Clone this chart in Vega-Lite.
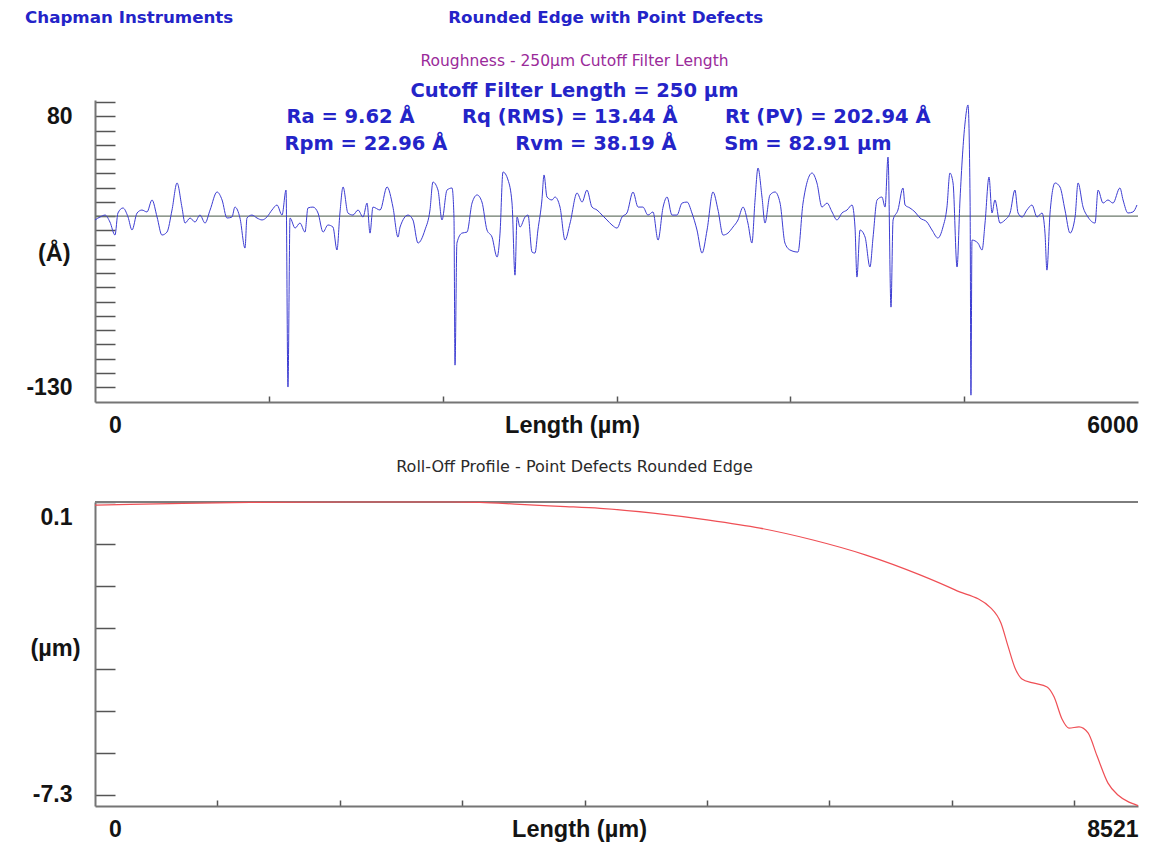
{
  "$schema": "https://vega.github.io/schema/vega-lite/v6.json",
  "autosize": {"type": "none"},
  "padding": {"left": 95, "top": 100, "right": 1062, "bottom": 750},
  "background": "white",
  "title": {
    "text": "Chapman Instruments\u00a0\u00a0\u00a0\u00a0\u00a0\u00a0\u00a0\u00a0\u00a0\u00a0\u00a0\u00a0\u00a0\u00a0\u00a0\u00a0\u00a0\u00a0\u00a0\u00a0\u00a0\u00a0\u00a0\u00a0\u00a0\u00a0\u00a0\u00a0\u00a0\u00a0\u00a0\u00a0\u00a0\u00a0\u00a0\u00a0\u00a0Rounded Edge with Point Defects",
    "anchor": "start",
    "frame": "group",
    "dx": -70,
    "offset": 27,
    "font": "DejaVu Sans",
    "fontSize": 16.7,
    "fontWeight": "bold",
    "color": "#2424c8"
  },
  "datasets": {
    "roughness": [
      {"length": 0, "height": -0.4}, {"length": 29, "height": 1.9}, {"length": 58, "height": 3.4}, {"length": 86, "height": -2.0},
      {"length": 115, "height": -12.1}, {"length": 132, "height": 5.0}, {"length": 161, "height": 8.9}, {"length": 190, "height": 1.9},
      {"length": 213, "height": -8.2}, {"length": 242, "height": 5.0}, {"length": 270, "height": 7.3}, {"length": 299, "height": 5.8},
      {"length": 328, "height": 15.1}, {"length": 357, "height": 1.9}, {"length": 385, "height": -12.1}, {"length": 414, "height": -9.8},
      {"length": 443, "height": 7.3}, {"length": 472, "height": 28.3}, {"length": 500, "height": 9.6}, {"length": 518, "height": -2.8},
      {"length": 547, "height": 1.1}, {"length": 575, "height": -2.0}, {"length": 604, "height": 3.4}, {"length": 633, "height": -2.8},
      {"length": 662, "height": 7.3}, {"length": 702, "height": 21.3}, {"length": 731, "height": 15.1}, {"length": 759, "height": 1.1},
      {"length": 788, "height": 1.9}, {"length": 805, "height": 9.6}, {"length": 834, "height": 1.1}, {"length": 863, "height": -22.2},
      {"length": 874, "height": 1.1}, {"length": 903, "height": 3.4}, {"length": 932, "height": 1.1}, {"length": 961, "height": -0.4},
      {"length": 989, "height": 1.9}, {"length": 1018, "height": 7.3}, {"length": 1047, "height": 11.2}, {"length": 1076, "height": 3.4},
      {"length": 1099, "height": 22.8}, {"length": 1110, "height": -130}, {"length": 1122, "height": 1.1}, {"length": 1151, "height": -6.7},
      {"length": 1179, "height": -2.8}, {"length": 1208, "height": -9.8}, {"length": 1225, "height": 8.9}, {"length": 1254, "height": 9.6},
      {"length": 1283, "height": 5.0}, {"length": 1312, "height": -9.8}, {"length": 1340, "height": -4.3}, {"length": 1369, "height": -5.9},
      {"length": 1392, "height": -23.7}, {"length": 1409, "height": 5.0}, {"length": 1427, "height": 25.2}, {"length": 1455, "height": 5.0},
      {"length": 1484, "height": 3.4}, {"length": 1513, "height": 7.3}, {"length": 1542, "height": 1.9}, {"length": 1565, "height": 12.7},
      {"length": 1582, "height": -10.6}, {"length": 1599, "height": 9.6}, {"length": 1640, "height": 7.3}, {"length": 1680, "height": 25.2},
      {"length": 1714, "height": 9.6}, {"length": 1743, "height": -13.7}, {"length": 1755, "height": -5.9}, {"length": 1801, "height": 3.4},
      {"length": 1829, "height": -0.4}, {"length": 1858, "height": -18.3}, {"length": 1898, "height": -8.2}, {"length": 1927, "height": 7.3},
      {"length": 1944, "height": 29.0}, {"length": 1973, "height": 22.8}, {"length": 1996, "height": -0.4}, {"length": 2025, "height": 22.8},
      {"length": 2054, "height": 24.4}, {"length": 2065, "height": 1.9}, {"length": 2071, "height": -113.0}, {"length": 2082, "height": -18.3},
      {"length": 2111, "height": -10.6}, {"length": 2140, "height": -9.8}, {"length": 2169, "height": 12.7}, {"length": 2198, "height": 19.0},
      {"length": 2226, "height": 13.5}, {"length": 2255, "height": -8.2}, {"length": 2284, "height": -13.7}, {"length": 2313, "height": -29.2},
      {"length": 2330, "height": -10.6}, {"length": 2347, "height": 36.8}, {"length": 2376, "height": 30.6}, {"length": 2399, "height": 12.7},
      {"length": 2416, "height": -43.2}, {"length": 2428, "height": 1.9}, {"length": 2445, "height": -5.9}, {"length": 2474, "height": 1.9},
      {"length": 2491, "height": 3.4}, {"length": 2514, "height": -25.3}, {"length": 2531, "height": -26.1}, {"length": 2548, "height": -8.2},
      {"length": 2571, "height": 15.1}, {"length": 2583, "height": 34.5}, {"length": 2600, "height": 17.4}, {"length": 2629, "height": 15.1},
      {"length": 2646, "height": 17.4}, {"length": 2675, "height": 9.6}, {"length": 2704, "height": -16.0}, {"length": 2733, "height": -2.8},
      {"length": 2773, "height": 20.5}, {"length": 2802, "height": 13.5}, {"length": 2830, "height": 22.8}, {"length": 2859, "height": 9.6},
      {"length": 2888, "height": 7.3}, {"length": 2917, "height": 3.4}, {"length": 2945, "height": -0.4}, {"length": 2974, "height": -4.3},
      {"length": 3003, "height": -6.7}, {"length": 3032, "height": 1.9}, {"length": 3060, "height": 5.0}, {"length": 3095, "height": 21.3},
      {"length": 3124, "height": 9.6}, {"length": 3152, "height": 9.6}, {"length": 3181, "height": 3.4}, {"length": 3210, "height": 5.8},
      {"length": 3239, "height": -16.0}, {"length": 3268, "height": 9.6}, {"length": 3291, "height": 17.4}, {"length": 3319, "height": 3.4},
      {"length": 3348, "height": 3.4}, {"length": 3377, "height": 12.7}, {"length": 3406, "height": 13.5}, {"length": 3434, "height": 5.0},
      {"length": 3463, "height": -8.2}, {"length": 3492, "height": -26.1}, {"length": 3521, "height": -8.2}, {"length": 3555, "height": 21.3},
      {"length": 3584, "height": 7.3}, {"length": 3613, "height": -12.1}, {"length": 3641, "height": -10.6}, {"length": 3670, "height": -5.9},
      {"length": 3699, "height": -0.4}, {"length": 3728, "height": 9.6}, {"length": 3756, "height": -2.8}, {"length": 3779, "height": -18.3},
      {"length": 3797, "height": 15.1}, {"length": 3814, "height": 39.9}, {"length": 3837, "height": 17.4}, {"length": 3854, "height": -2.8},
      {"length": 3883, "height": 19.0}, {"length": 3912, "height": 21.3}, {"length": 3941, "height": 12.7}, {"length": 3969, "height": -18.3},
      {"length": 3998, "height": -23.7}, {"length": 4044, "height": -25.3}, {"length": 4073, "height": 12.7}, {"length": 4125, "height": 36.0},
      {"length": 4153, "height": 28.3}, {"length": 4182, "height": 9.6}, {"length": 4211, "height": 12.7}, {"length": 4240, "height": 5.8},
      {"length": 4268, "height": -0.4}, {"length": 4297, "height": 5.0}, {"length": 4326, "height": 7.3}, {"length": 4355, "height": 11.2},
      {"length": 4372, "height": -5.9}, {"length": 4383, "height": -44.7}, {"length": 4401, "height": -8.2}, {"length": 4430, "height": -13.7},
      {"length": 4458, "height": -36.9}, {"length": 4476, "height": -13.7}, {"length": 4499, "height": 15.1}, {"length": 4527, "height": 17.4},
      {"length": 4545, "height": 9.6}, {"length": 4562, "height": 48.4}, {"length": 4579, "height": -68.0}, {"length": 4591, "height": -0.4},
      {"length": 4619, "height": 7.3}, {"length": 4648, "height": 24.4}, {"length": 4660, "height": 11.2}, {"length": 4688, "height": 8.9},
      {"length": 4717, "height": 5.8}, {"length": 4746, "height": 1.1}, {"length": 4786, "height": -2.0}, {"length": 4815, "height": -8.2},
      {"length": 4849, "height": -14.4}, {"length": 4878, "height": -5.9}, {"length": 4901, "height": 9.6}, {"length": 4918, "height": 36.0},
      {"length": 4936, "height": 28.3}, {"length": 4959, "height": -36.9}, {"length": 4976, "height": 15.1}, {"length": 5005, "height": 74.8},
      {"length": 5022, "height": 88.8}, {"length": 5034, "height": 15.1}, {"length": 5039, "height": -136.3}, {"length": 5045, "height": -16.0},
      {"length": 5079, "height": -18.3}, {"length": 5103, "height": -23.7}, {"length": 5120, "height": -2.8}, {"length": 5143, "height": 32.9},
      {"length": 5160, "height": 5.0}, {"length": 5177, "height": 15.1}, {"length": 5206, "height": -2.8}, {"length": 5235, "height": -0.4},
      {"length": 5264, "height": 5.0}, {"length": 5292, "height": 22.8}, {"length": 5310, "height": 5.0}, {"length": 5333, "height": 1.9},
      {"length": 5361, "height": 7.3}, {"length": 5390, "height": 11.2}, {"length": 5419, "height": 1.9}, {"length": 5448, "height": 5.0},
      {"length": 5465, "height": -10.6}, {"length": 5476, "height": -39.3}, {"length": 5494, "height": 5.0}, {"length": 5523, "height": 28.3},
      {"length": 5551, "height": 25.2}, {"length": 5580, "height": 7.3}, {"length": 5609, "height": -10.6}, {"length": 5638, "height": 1.9},
      {"length": 5655, "height": 28.3}, {"length": 5684, "height": 9.6}, {"length": 5712, "height": 1.9}, {"length": 5753, "height": -2.8},
      {"length": 5770, "height": 22.8}, {"length": 5799, "height": 12.7}, {"length": 5827, "height": 15.1}, {"length": 5856, "height": 12.7},
      {"length": 5896, "height": 24.4}, {"length": 5914, "height": 15.1}, {"length": 5942, "height": 5.0}, {"length": 5971, "height": 5.8},
      {"length": 5994, "height": 11.2}
    ],
    "rolloff": [
      {"length": 0, "height": 0.02}, {"length": 286, "height": 0.04}, {"length": 613, "height": 0.06}, {"length": 1266, "height": 0.09},
      {"length": 2083, "height": 0.1}, {"length": 2900, "height": 0.1}, {"length": 3145, "height": 0.09}, {"length": 3472, "height": 0.04},
      {"length": 3799, "height": -0.01}, {"length": 4126, "height": -0.06}, {"length": 4559, "height": -0.18}, {"length": 5000, "height": -0.35},
      {"length": 5433, "height": -0.56}, {"length": 5866, "height": -0.86}, {"length": 6299, "height": -1.24}, {"length": 6740, "height": -1.74},
      {"length": 7026, "height": -2.12}, {"length": 7320, "height": -2.58}, {"length": 7402, "height": -2.96}, {"length": 7459, "height": -3.54},
      {"length": 7516, "height": -4.09}, {"length": 7573, "height": -4.37}, {"length": 7663, "height": -4.47}, {"length": 7778, "height": -4.57},
      {"length": 7835, "height": -4.82}, {"length": 7900, "height": -5.38}, {"length": 7957, "height": -5.61}, {"length": 8039, "height": -5.58},
      {"length": 8113, "height": -5.73}, {"length": 8186, "height": -6.31}, {"length": 8276, "height": -7.0}, {"length": 8357, "height": -7.3},
      {"length": 8447, "height": -7.48}, {"length": 8505, "height": -7.55}, {"length": 8521, "height": -7.57}
    ]
  },
  "vconcat": [
    {
      "width": 1043,
      "height": 302,
      "title": {
        "text": "Roughness - 250µm Cutoff Filter Length",
        "subtitle": [
          "Cutoff Filter Length = 250 µm",
          "\u200b\u00a0\u00a0\u00a0\u00a0\u00a0\u00a0\u00a0\u00a0\u00a0\u00a0Ra = 9.62 Å\u00a0\u00a0\u00a0\u00a0\u00a0\u00a0\u00a0Rq (RMS) = 13.44 Å\u00a0\u00a0\u00a0\u00a0\u00a0\u00a0\u00a0Rt (PV) = 202.94 Å",
          "\u200b\u00a0\u00a0\u00a0\u00a0Rpm = 22.96 Å\u00a0\u00a0\u00a0\u00a0\u00a0\u00a0\u00a0\u00a0\u00a0\u00a0Rvm = 38.19 Å\u00a0\u00a0\u00a0\u00a0\u00a0\u00a0\u00a0Sm = 82.91 µm"
        ],
        "anchor": "middle",
        "frame": "group",
        "dx": -42,
        "offset": -62,
        "font": "DejaVu Sans",
        "fontSize": 15.5,
        "fontWeight": "normal",
        "color": "#9a2a9a",
        "subtitleFont": "DejaVu Sans",
        "subtitleFontSize": 19.5,
        "subtitleFontWeight": "bold",
        "subtitleColor": "#2424c8",
        "subtitleLineHeight": 26.5,
        "subtitlePadding": 12
      },
      "layer": [
        {
          "data": {"values": [{}]},
          "mark": {"type": "rule", "color": "#6b786b", "strokeWidth": 1.2},
          "encoding": {"y": {"datum": 2.6, "type": "quantitative"}}
        },
        {
          "data": {"name": "roughness"},
          "mark": {"type": "line", "color": "#3c3cd2", "strokeWidth": 1, "interpolate": "monotone"},
          "encoding": {
            "x": {
              "field": "length", "type": "quantitative",
              "scale": {"domain": [0, 6000], "nice": false, "zero": false},
              "axis": {
                "values": [0, 1000, 2000, 3000, 4000, 5000, 6000],
                "tickCount": 30,
                "labelExpr": "datum.value == 0 ? '0' : datum.value == 6000 ? '6000' : ''",
                "tickSize": -6,
                "labelPadding": 29,
                "labelBaseline": "middle",
                "labelAlign": {"condition": {"test": "datum.value == 6000", "value": "right"}, "value": "center"},
                "labelOffset": {"condition": {"test": "datum.value == 0", "value": 20}, "value": 0},
                "tickOpacity": {"condition": {"test": "datum.value == 0 || datum.value == 6000", "value": 0}, "value": 1},
                "title": "Length (µm)",
                "titleX": 477,
                "titleY": 23,
                "titleBaseline": "middle",
                "titleAlign": "center"
              }
            },
            "y": {
              "field": "height", "type": "quantitative",
              "scale": {"domain": [-141.6, 92.65], "nice": false, "zero": false},
              "axis": {
                "values": [91.05, 80, 68.95, 57.89, 46.84, 35.79, 24.74, 13.68, 2.63, -8.42, -19.47, -30.53, -41.58, -52.63, -63.68, -74.74, -85.79, -96.84, -107.89, -118.95, -130],
                "tickCount": 40,
                "labelExpr": "datum.value == 80 ? '80' : datum.value == -130 ? '-130' : ''",
                "tickSize": -20,
                "labelPadding": 43,
                "title": "(Å)",
                "titleAngle": 0,
                "titleAlign": "right",
                "titleBaseline": "middle",
                "titleX": -25,
                "titleY": 153
              }
            }
          }
        }
      ]
    },
    {
      "width": 1043,
      "height": 304,
      "title": {
        "text": "Roll-Off Profile - Point Defects Rounded Edge",
        "anchor": "middle",
        "frame": "group",
        "dx": -42,
        "offset": 25,
        "font": "DejaVu Sans",
        "fontSize": 16,
        "fontWeight": "normal",
        "color": "#2a2a2a"
      },
      "layer": [
        {
          "data": {"values": [{}]},
          "mark": {"type": "rule", "color": "#7d7d7d", "strokeWidth": 2},
          "encoding": {"y": {"datum": 0.1, "type": "quantitative"}}
        },
        {
          "data": {"name": "rolloff"},
          "mark": {"type": "line", "color": "#ef4f55", "strokeWidth": 1.2, "interpolate": "monotone"},
          "encoding": {
            "x": {
              "field": "length", "type": "quantitative",
              "scale": {"domain": [0, 8521], "nice": false, "zero": false},
              "axis": {
                "values": [0, 1000, 2000, 3000, 4000, 5000, 6000, 7000, 8000, 8521],
                "tickCount": 30,
                "labelExpr": "datum.value == 0 ? '0' : datum.value == 8521 ? '8521' : ''",
                "tickSize": -6,
                "labelPadding": 29,
                "labelBaseline": "middle",
                "labelAlign": {"condition": {"test": "datum.value == 8521", "value": "right"}, "value": "center"},
                "labelOffset": {"condition": {"test": "datum.value == 0", "value": 20}, "value": 0},
                "tickOpacity": {"condition": {"test": "datum.value == 0 || datum.value == 8521", "value": 0}, "value": 1},
                "title": "Length (µm)",
                "titleX": 484,
                "titleY": 23,
                "titleBaseline": "middle",
                "titleAlign": "center"
              }
            },
            "y": {
              "field": "height", "type": "quantitative",
              "scale": {"domain": [-7.578, 0.1], "nice": false, "zero": false},
              "axis": {
                "values": [0.1, -0.957, -2.014, -3.071, -4.129, -5.186, -6.243, -7.3],
                "tickCount": 30,
                "labelExpr": "datum.value == 0.1 ? '0.1' : datum.value == -7.3 ? '-7.3' : ''",
                "tickSize": -20,
                "labelPadding": 43,
                "labelOffset": {"condition": {"test": "datum.value == 0.1", "value": 15}, "value": 0},
                "title": "(µm)",
                "titleAngle": 0,
                "titleAlign": "right",
                "titleBaseline": "middle",
                "titleX": -15,
                "titleY": 146
              }
            }
          }
        }
      ]
    }
  ],
  "spacing": 100,
  "bounds": "flush",
  "config": {
    "view": {"stroke": null},
    "font": "Liberation Sans",
    "axis": {
      "grid": false,
      "domainColor": "#757575",
      "domainWidth": 2,
      "tickColor": "#555555",
      "tickWidth": 1.5,
      "labelFont": "Liberation Sans",
      "labelFontSize": 23,
      "labelFontWeight": "bold",
      "labelColor": "#141414",
      "labelOverlap": false,
      "labelFlush": false,
      "labelBound": false,
      "titleFont": "Liberation Sans",
      "titleFontSize": 23.5,
      "titleFontWeight": "bold",
      "titleColor": "#141414"
    }
  }
}
